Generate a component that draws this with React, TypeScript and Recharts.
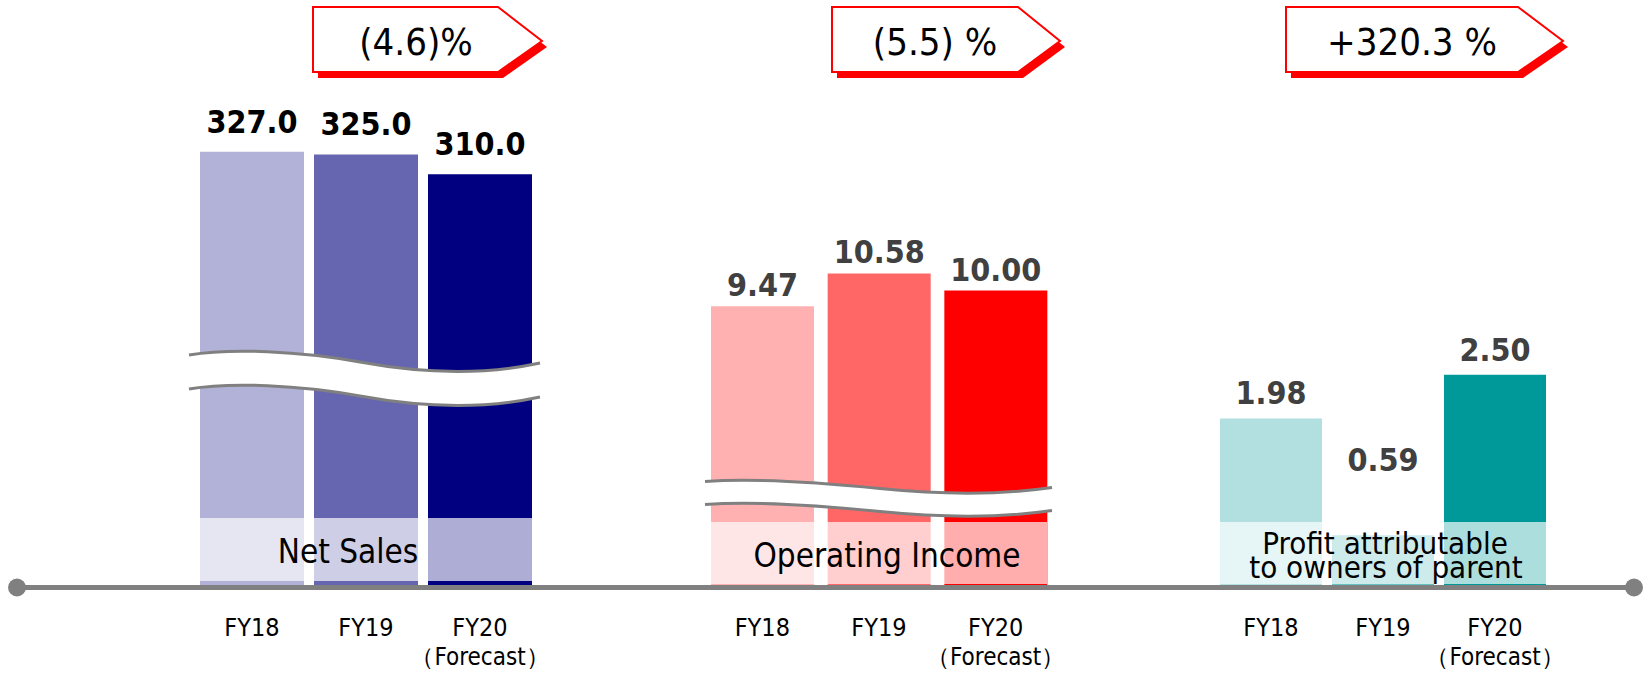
import React from 'react';
import { BarChart, Bar, XAxis, YAxis, Cell, LabelList } from 'recharts';

const years = ['FY18', 'FY19', 'FY20'];
const yearNotes = ['', '', '（Forecast）'];
const netSales = [327.0, 325.0, 310.0];
const operatingIncome = [9.47, 10.58, 10.0];
const profitToOwners = [1.98, 0.59, 2.5];
const changeLabels = ['(4.6)%', '(5.5) %', '+320.3 %'];
const groupTitles = [['Net Sales'], ['Operating Income'], ['Profit attributable', 'to owners of parent']];

const netSalesColors = ['#B2B2D8', '#6666B0', '#000080'];
const operatingColors = ['#FFB0B0', '#FF6666', '#FF0000'];
const profitColors = ['#B2E0E0', '#66C2C2', '#009999'];

const FONT = '"DejaVu Sans Condensed", "DejaVu Sans", sans-serif';
const W = 1650;
const H = 673;
const AXIS_GRAY = '#808080';
const SIDE = 40; // room for tick text beyond the outer bands

const YearTick = ({ x, y, payload }: any) => {
  const i = years.indexOf(payload.value);
  return (
    <g>
      <text x={x} y={y + 43} textAnchor="middle" fontSize={25} fill="#000" fontFamily={FONT}>
        {payload.value}
      </text>
      {yearNotes[i] && (
        <text x={x} y={y + 72} textAnchor="middle" fontSize={24} fill="#000" fontFamily={FONT}>
          {yearNotes[i]}
        </text>
      )}
    </g>
  );
};

interface GroupProps {
  values: number[];
  colors: string[];
  max: number;
  left: number;
  width: number;
  barSize: number;
  digits: number;
  labelColor: string;
  labelOffset: number;
  labelFloor?: number;
}

function Group({ values, colors, max, left, width, barSize, digits, labelColor, labelOffset, labelFloor }: GroupProps) {
  const data = years.map((year, i) => ({ year, value: values[i] }));

  const renderLabel = (props: any) => {
    const { x, y, width: w, value } = props;
    const top = labelFloor ? Math.min(y, labelFloor) : y;
    return (
      <text
        x={x + w / 2}
        y={top - labelOffset}
        textAnchor="middle"
        fontSize={32}
        fontWeight="bold"
        fill={labelColor}
        fontFamily={FONT}
      >
        {Number(value).toFixed(digits)}
      </text>
    );
  };

  return (
    <div style={{ position: 'absolute', left: left - SIDE, top: 0 }}>
      <BarChart
        width={width + SIDE * 2}
        height={H}
        data={data}
        margin={{ top: 55, right: SIDE, bottom: 0, left: SIDE }}
      >
        <XAxis dataKey="year" axisLine={false} tickLine={false} height={88} interval={0} tick={<YearTick />} />
        <YAxis hide domain={[0, max]} />
        <Bar dataKey="value" barSize={barSize} isAnimationActive={false}>
          {data.map((d, i) => (
            <Cell key={d.year} fill={colors[i]} />
          ))}
          <LabelList dataKey="value" content={renderLabel} />
        </Bar>
      </BarChart>
    </div>
  );
}

// callout arrows above each group
const callouts = [
  { l: 313, r: 498, tip: 542, tx: 416 },
  { l: 832, r: 1018, tip: 1060, tx: 935 },
  { l: 1286, r: 1518, tip: 1563, tx: 1412 },
];

const calloutPath = (c: { l: number; r: number; tip: number }) =>
  `M${c.l},7 H${c.r} L${c.tip},41 L${c.r},72 H${c.l} Z`;

// axis break waves
const breaks = [
  { d: 'M189,372 C230,365 300,368 360,379 C420,390 480,393 540,380', band: 34 },
  { d: 'M705,493 C760,489 830,495 880,500 C930,505 990,508 1052,499', band: 23 },
];

const overlays = [
  { x: 200, y: 518, w: 332, h: 63 },
  { x: 711, y: 522, w: 336, h: 62 },
  { x: 1220, y: 522, w: 326, h: 62 },
];

function Decorations() {
  return (
    <svg width={W} height={H} style={{ position: 'absolute', left: 0, top: 0, pointerEvents: 'none' }}>
      {breaks.map((b, i) => (
        <g key={i}>
          <path d={b.d} stroke="#fff" strokeWidth={b.band} fill="none" />
          <path d={b.d} transform={`translate(0,${-b.band / 2})`} stroke={AXIS_GRAY} strokeWidth={3} fill="none" />
          <path d={b.d} transform={`translate(0,${b.band / 2})`} stroke={AXIS_GRAY} strokeWidth={3} fill="none" />
        </g>
      ))}
      {overlays.map((o, i) => (
        <rect key={i} x={o.x} y={o.y} width={o.w} height={o.h} fill="#fff" fillOpacity={0.68} />
      ))}
      <text x={348} y={563} textAnchor="middle" fontSize={33} fontFamily={FONT} fill="#000">
        {groupTitles[0][0]}
      </text>
      <text x={887} y={567} textAnchor="middle" fontSize={33} fontFamily={FONT} fill="#000">
        {groupTitles[1][0]}
      </text>
      <text x={1385} y={554} textAnchor="middle" fontSize={31} fontFamily={FONT} fill="#000">
        {groupTitles[2][0]}
      </text>
      <text x={1386} y={578} textAnchor="middle" fontSize={31} fontFamily={FONT} fill="#000">
        {groupTitles[2][1]}
      </text>

      <line x1={17} x2={1634} y1={587.5} y2={587.5} stroke={AXIS_GRAY} strokeWidth={5} />
      <circle cx={17} cy={587.5} r={9} fill={AXIS_GRAY} />
      <circle cx={1634} cy={587.5} r={9} fill={AXIS_GRAY} />

      {callouts.map((c, i) => (
        <g key={i}>
          <path d={calloutPath(c)} transform="translate(5,6)" fill="#FF0000" />
          <path d={calloutPath(c)} fill="#fff" stroke="#FF0000" strokeWidth={2} />
          <text x={c.tx} y={55} textAnchor="middle" fontSize={38} fontFamily={FONT} fill="#000">
            {changeLabels[i]}
          </text>
        </g>
      ))}
    </svg>
  );
}

export default function App() {
  return (
    <div style={{ position: 'absolute', left: 0, top: 0, width: W, height: H, background: '#fff', fontFamily: FONT }}>
      <Group
        values={netSales}
        colors={netSalesColors}
        max={400}
        left={195}
        width={342}
        barSize={104}
        digits={1}
        labelColor="#000"
        labelOffset={19}
      />
      <Group
        values={operatingIncome}
        colors={operatingColors}
        max={18}
        left={704}
        width={350}
        barSize={103}
        digits={2}
        labelColor="#404040"
        labelOffset={10}
      />
      <Group
        values={profitToOwners}
        colors={profitColors}
        max={6.3}
        left={1215}
        width={336}
        barSize={102}
        digits={2}
        labelColor="#404040"
        labelOffset={14}
        labelFloor={485}
      />
      <Decorations />
    </div>
  );
}
